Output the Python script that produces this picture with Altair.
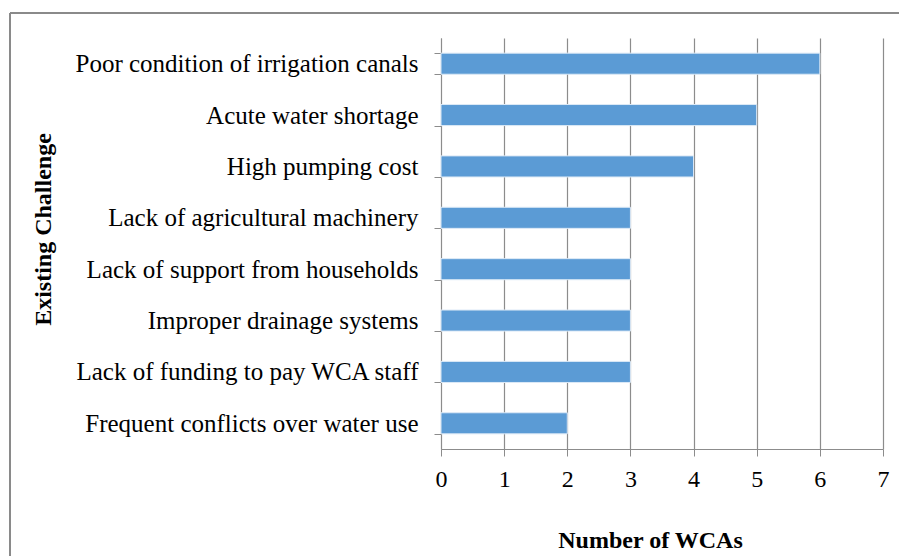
import altair as alt
import pandas as pd

challenges = [
    "Poor condition of irrigation canals",
    "Acute water shortage",
    "High pumping cost",
    "Lack of agricultural machinery",
    "Lack of support from households",
    "Improper drainage systems",
    "Lack of funding to pay WCA staff",
    "Frequent conflicts over water use",
]
counts = [6, 5, 4, 3, 3, 3, 3, 2]

df = pd.DataFrame({"challenge": challenges, "count": counts})

FONT = "Liberation Serif"
GRID = "#8c8c8c"

bars = alt.Chart(df).mark_bar(color="#5b9bd5", stroke="#dce9f6", strokeWidth=1).encode(
    x=alt.X(
        "count:Q",
        scale=alt.Scale(domain=[0, 7], nice=False),
        axis=alt.Axis(
            values=list(range(8)),
            format="d",
            title="Number of WCAs",
            titleFont=FONT,
            titleFontSize=24,
            titleFontWeight="bold",
            titleColor="#000000",
            titleX=209,
            titleY=91,
            titleAnchor="start",
            titleAlign="center",
            titleBaseline="middle",
            labelFont=FONT,
            labelFontSize=24,
            labelColor="#000000",
            labelPadding=11,
            labelFlush=False,
            tickSize=7,
            tickColor=GRID,
            domainColor=GRID,
            gridColor=GRID,
            gridWidth=1.2,
        ),
    ),
    y=alt.Y(
        "challenge:N",
        sort=challenges,
        scale=alt.Scale(paddingInner=0.59, paddingOuter=0.295),
        axis=alt.Axis(
            title="Existing Challenge",
            titleFont=FONT,
            titleFontSize=24,
            titleFontWeight="bold",
            titleColor="#000000",
            titleAngle=270,
            titleX=-398,
            titleY=191,
            titleAlign="center",
            titleBaseline="middle",
            labelFont=FONT,
            labelFontSize=25,
            labelColor="#000000",
            labelPadding=16,
            labelLimit=500,
            tickSize=7,
            tickBand="extent",
            tickColor=GRID,
            domainColor=GRID,
            grid=False,
        ),
    ),
)

# outer frame (top and left edges)
frame_top = alt.Chart(df).mark_rule(color="#8a8a8a", strokeWidth=1.5, clip=False).encode(
    x=alt.value(-431), x2=alt.value(470), y=alt.value(-25)
)
frame_left = alt.Chart(df).mark_rule(color="#8a8a8a", strokeWidth=1.5, clip=False).encode(
    x=alt.value(-431), y=alt.value(-25), y2=alt.value(530)
)

chart = (
    alt.layer(bars, frame_top, frame_left)
    .properties(
        width=442,
        height=411,
        padding={"left": 441, "top": 38, "right": 16, "bottom": 107},
        autosize=alt.AutoSizeParams(type="none"),
        background="#ffffff",
    )
    .configure_view(stroke=None)
)

chart.save("out.html", embed_options={"renderer": "svg", "actions": False})
